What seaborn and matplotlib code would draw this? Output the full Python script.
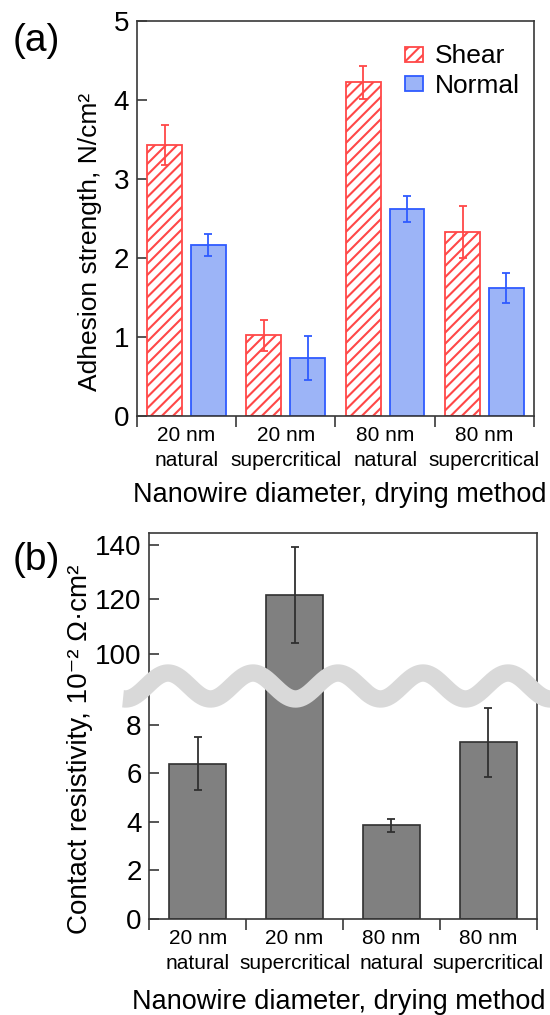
import numpy as np
import pandas as pd
import matplotlib
matplotlib.use("Agg")
import matplotlib.pyplot as plt
from matplotlib.lines import Line2D
import seaborn as sns

# ---------------- data ----------------
categories = ["20 nm\nnatural", "20 nm\nsupercritical", "80 nm\nnatural", "80 nm\nsupercritical"]
tests = ["Shear", "Normal"]
shear = [3.43, 1.02, 4.22, 2.33]
shear_err = [0.25, 0.20, 0.21, 0.33]
normal = [2.16, 0.73, 2.62, 1.62]
normal_err = [0.14, 0.28, 0.16, 0.19]
contact = [6.40, 121.7, 3.86, 7.27]
contact_err = [1.10, 17.7, 0.27, 1.43]
top_yticks = [0, 1, 2, 3, 4, 5]
bottom_yticks = [0, 2, 4, 6, 8, 100, 120, 140]

# ---------------- style ----------------
sns.set_style("ticks")
plt.rcParams["font.family"] = ["Liberation Sans", "DejaVu Sans"]
plt.rcParams["hatch.linewidth"] = 1.5
for key in ["text.color", "axes.labelcolor", "xtick.labelcolor", "ytick.labelcolor"]:
    plt.rcParams[key] = "black"

RED = "#ff4848"
BLUE_F = "#9cb4f7"
BLUE_E = "#2f5bff"
SPINE = "#383838"

fig = plt.figure(figsize=(5.5, 10.15), dpi=100)
ax1 = fig.add_axes([0.2487, 0.5901, 0.7225, 0.3895])
ax2 = fig.add_axes([0.2716, 0.0946, 0.7042, 0.3806])

# ---------------- panel (a) ----------------
df1 = pd.DataFrame({
    "Condition": categories * 2,
    "Test": [tests[0]] * 4 + [tests[1]] * 4,
    "Strength": shear + normal,
})
sns.barplot(data=df1, x="Condition", y="Strength", hue="Test", order=categories,
            hue_order=tests, palette={"Shear": "white", "Normal": BLUE_F},
            width=0.88, gap=0.2, saturation=1, errorbar=None, ax=ax1,
            linewidth=1.3, legend=False)

errs = {"Shear": shear_err, "Normal": normal_err}
vals = {"Shear": shear, "Normal": normal}
for cont, t in zip(ax1.containers, tests):
    for p in cont:
        if t == "Shear":
            p.set_facecolor("white")
            p.set_edgecolor(RED)
            p.set_hatch("///")
        else:
            p.set_facecolor(BLUE_F)
            p.set_edgecolor(BLUE_E)
        p.set_linewidth(1.3)
    xs = [p.get_x() + p.get_width() / 2 for p in cont]
    ax1.errorbar(xs, vals[t], yerr=errs[t], fmt="none",
                 ecolor=RED if t == "Shear" else BLUE_E,
                 elinewidth=1.3, capsize=3.2, capthick=1.3, zorder=5)

ax1.legend(handles=[ax1.containers[0][0], ax1.containers[1][0]], labels=tests,
           loc="upper right", bbox_to_anchor=(0.965, 0.94), frameon=False,
           fontsize=19, handlelength=0.7, handleheight=0.5,
           handletextpad=0.45, labelspacing=0.2, borderpad=0, borderaxespad=0)

ax1.set_xlim(-0.5, 3.5)
ax1.set_ylim(0, 5)
ax1.set_yticks(top_yticks)
ax1.set_xticks(range(4))
ax1.set_xticklabels(categories, fontsize=15, linespacing=1.4)
ax1.set_xticks(np.arange(-0.5, 4, 1), minor=True)
ax1.tick_params(axis="x", which="major", length=0, pad=7)
ax1.tick_params(axis="x", which="minor", length=8, width=1.2, direction="out", color=SPINE)
ax1.tick_params(axis="y", which="major", length=7.5, width=1.2, direction="in",
                labelsize=20, pad=5.5, color=SPINE)
ax1.set_ylabel("Adhesion strength, N/cm²", fontsize=19)
ax1.yaxis.set_label_coords(-0.088, 0.44)
ax1.set_xlabel("Nanowire diameter, drying method", fontsize=19.5, va="top")
ax1.xaxis.set_label_coords(0.51, -0.168)
for s in ax1.spines.values():
    s.set_visible(True)
    s.set_color(SPINE)
    s.set_linewidth(1.2)

# ---------------- panel (b) ----------------
B, U, K, EPS = 9.6, 88.2, 0.1118, 1e-4
C = B + (U - B) * EPS


def fwd(v):
    v = np.asarray(v, dtype=float)
    return np.where(v <= B, v, np.where(v <= U, B + (v - B) * EPS, C + (v - U) * K))


def inv(w):
    w = np.asarray(w, dtype=float)
    return np.where(w <= B, w, np.where(w <= C, B + (w - B) / EPS, U + (w - C) / K))


df2 = pd.DataFrame({"Condition": categories, "Resistivity": contact})
sns.barplot(data=df2, x="Condition", y="Resistivity", order=categories,
            color="#808080", saturation=1, width=0.587, errorbar=None,
            edgecolor="#303030", linewidth=1.2, ax=ax2)
ax2.set_yscale("function", functions=(fwd, inv))
xs2 = [p.get_x() + p.get_width() / 2 for p in ax2.containers[0]]
ax2.errorbar(xs2, contact, yerr=contact_err, fmt="none", ecolor="#303030",
             elinewidth=1.3, capsize=3.2, capthick=1.3, zorder=5)

ax2.set_xlim(-0.5, 3.5)
ax2.set_ylim(0, 144.5)
ax2.set_yticks(bottom_yticks)
ax2.set_yticklabels([str(t) for t in bottom_yticks])
ax2.yaxis.set_minor_locator(matplotlib.ticker.NullLocator())
ax2.set_xticks(range(4))
ax2.set_xticklabels(categories, fontsize=15, linespacing=1.4)
ax2.set_xticks(np.arange(-0.5, 4, 1), minor=True)
ax2.tick_params(axis="x", which="major", length=0, pad=7)
ax2.tick_params(axis="x", which="minor", length=8, width=1.2, direction="out", color=SPINE)
ax2.tick_params(axis="y", which="major", length=7, width=1.2, direction="in",
                labelsize=20, pad=5.5, color=SPINE)
ax2.set_ylabel("Contact resistivity, 10⁻² Ω·cm²", fontsize=20)
ax2.yaxis.set_label_coords(-0.146, 0.44)
ax2.set_xlabel("Nanowire diameter, drying method", fontsize=19.5, va="top")
ax2.xaxis.set_label_coords(0.49, -0.18)
for s in ax2.spines.values():
    s.set_visible(True)
    s.set_color(SPINE)
    s.set_linewidth(1.2)

# axis-break wave (decoration)
wx = np.linspace(123, 560, 400)
wy = 686 - 13 * np.cos(2 * np.pi * (wx - 168) / 85)
fig.add_artist(Line2D(wx / 550, (1015 - wy) / 1015, transform=fig.transFigure,
                      color="#d9d9d9", lw=12.5, solid_capstyle="butt", zorder=10))

# panel letters
fig.text(36 / 550, 1 - 41 / 1015, "(a)", fontsize=28, ha="center", va="center")
fig.text(36 / 550, 1 - 560 / 1015, "(b)", fontsize=28, ha="center", va="center")

fig.savefig("out.png", dpi=100)
